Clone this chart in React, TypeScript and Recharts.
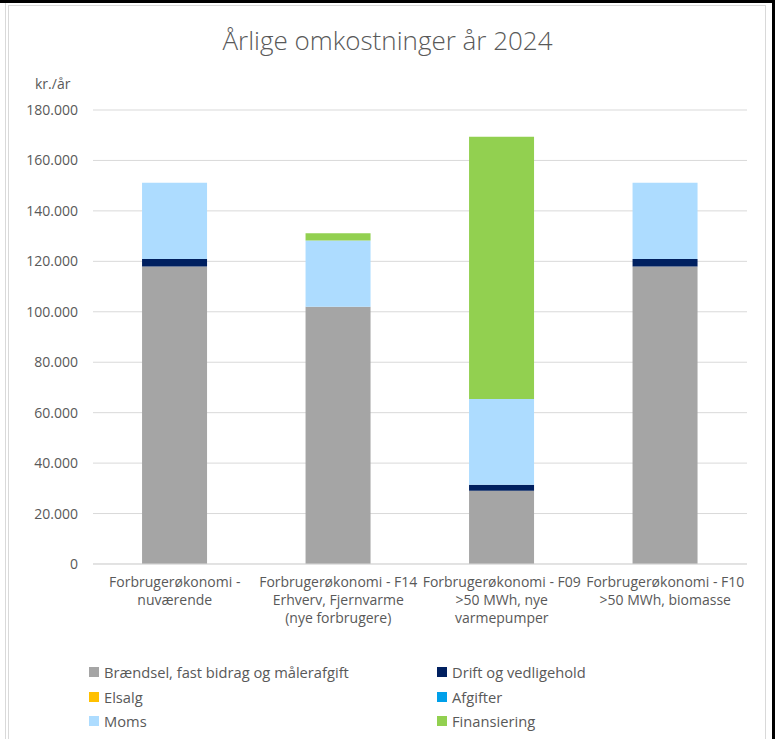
import React from "react";
import { BarChart, Bar, XAxis, YAxis, CartesianGrid } from "recharts";

const categories = [
  "Forbrugerøkonomi - nuværende",
  "Forbrugerøkonomi - F14 Erhverv, Fjernvarme (nye forbrugere)",
  "Forbrugerøkonomi - F09 >50 MWh, nye varmepumper",
  "Forbrugerøkonomi - F10 >50 MWh, biomasse",
];
const categoryLines = [
  ["Forbrugerøkonomi -", "nuværende"],
  ["Forbrugerøkonomi - F14", "Erhverv, Fjernvarme", "(nye forbrugere)"],
  ["Forbrugerøkonomi - F09", ">50 MWh, nye", "varmepumper"],
  ["Forbrugerøkonomi - F10", ">50 MWh, biomasse"],
];

const braendsel = [118000, 102000, 29000, 118000];
const drift = [2900, 0, 2400, 2900];
const elsalg = [0, 0, 0, 0];
const afgifter = [0, 0, 0, 0];
const moms = [30300, 26300, 34000, 30300];
const finansiering = [0, 2800, 104000, 0];

const yTicks = [0, 20000, 40000, 60000, 80000, 100000, 120000, 140000, 160000, 180000];

const seriesNames = [
  "Brændsel, fast bidrag og målerafgift",
  "Drift og vedligehold",
  "Elsalg",
  "Afgifter",
  "Moms",
  "Finansiering",
];
const seriesKeys = ["braendsel", "drift", "elsalg", "afgifter", "moms", "finansiering"];
const seriesColors = ["#A5A5A5", "#002060", "#FFC000", "#00A0EA", "#ADDCFF", "#92D050"];

const data = categories.map((c, i) => ({
  name: c,
  idx: i,
  braendsel: braendsel[i],
  drift: drift[i],
  elsalg: elsalg[i],
  afgifter: afgifter[i],
  moms: moms[i],
  finansiering: finansiering[i],
}));

const FONT = "'Open Sans', 'DejaVu Sans', sans-serif";
const TEXT = "#595959";

const fmt = (v: number) => String(v).replace(/\B(?=(\d{3})+(?!\d))/g, ".");

const XTick = (props: any) => {
  const { x, y, index } = props;
  const lines = categoryLines[index] || [];
  return (
    <text x={x} y={y} textAnchor="middle" fill={TEXT} fontSize={14} fontFamily={FONT}>
      {lines.map((l, i) => (
        <tspan key={i} x={x} dy={i === 0 ? 23 : 18}>
          {l}
        </tspan>
      ))}
    </text>
  );
};

export default function App() {
  return (
    <div
      style={{
        position: "absolute",
        left: 0,
        top: 0,
        width: 775,
        height: 739,
        background: "#fff",
        overflow: "hidden",
        fontFamily: FONT,
      }}
    >
      {/* frame */}
      <div style={{ position: "absolute", left: 0, top: 0, width: 775, height: 3, background: "#000" }} />
      <div style={{ position: "absolute", left: 772, top: 0, width: 3, height: 739, background: "#000" }} />
      <div style={{ position: "absolute", left: 5, top: 3, width: 1, height: 736, background: "#D9D9D9" }} />
      <div style={{ position: "absolute", left: 8, top: 5, width: 1, height: 734, background: "#D9D9D9" }} />
      <div style={{ position: "absolute", left: 8, top: 5, width: 758, height: 1, background: "#D9D9D9" }} />
      <div style={{ position: "absolute", left: 765, top: 5, width: 1, height: 734, background: "#D9D9D9" }} />

      <div
        style={{
          position: "absolute",
          left: 0,
          width: 775,
          top: 27,
          textAlign: "center",
          fontSize: 26,
          lineHeight: "26px",
          fontWeight: 300,
          color: TEXT,
        }}
      >
        Årlige omkostninger år 2024
      </div>
      <div
        style={{
          position: "absolute",
          left: 35,
          top: 77,
          fontSize: 14,
          lineHeight: "14px",
          color: TEXT,
        }}
      >
        kr./år
      </div>

      <div style={{ position: "absolute", left: 0, top: 0 }}>
        <BarChart
          width={775}
          height={739}
          data={data}
          margin={{ top: 110, right: 28, bottom: 115, left: 0 }}
          barCategoryGap="30%"
        >
          <CartesianGrid vertical={false} stroke="#D9D9D9" />
          <XAxis
            dataKey="name"
            tick={<XTick />}
            tickLine={false}
            axisLine={{ stroke: "#D9D9D9" }}
            tickSize={0}
            tickMargin={0}
            height={60}
            interval={0}
          />
          <YAxis
            width={93}
            domain={[0, 180000]}
            ticks={yTicks}
            tickFormatter={fmt}
            tickLine={false}
            axisLine={false}
            tickSize={0}
            tickMargin={15}
            tick={{ fill: TEXT, fontSize: 14, fontFamily: FONT }}
          />
          {seriesKeys.map((k, i) => (
            <Bar key={k} dataKey={k} name={seriesNames[i]} stackId="a" fill={seriesColors[i]} isAnimationActive={false} />
          ))}
        </BarChart>
      </div>

      {/* legend */}
      {seriesNames.map((n, i) => {
        const col = i % 2;
        const row = Math.floor(i / 2);
        const left = col === 0 ? 89 : 437;
        const cy = 672 + row * 24.5;
        return (
          <div
            key={n}
            style={{
              position: "absolute",
              left,
              top: cy - 10,
              height: 20,
              display: "flex",
              alignItems: "center",
              fontSize: 14.7,
              color: TEXT,
              whiteSpace: "nowrap",
            }}
          >
            <span style={{ display: "inline-block", width: 10, height: 10, background: seriesColors[i], marginRight: 5 }} />
            {n}
          </div>
        );
      })}
    </div>
  );
}
